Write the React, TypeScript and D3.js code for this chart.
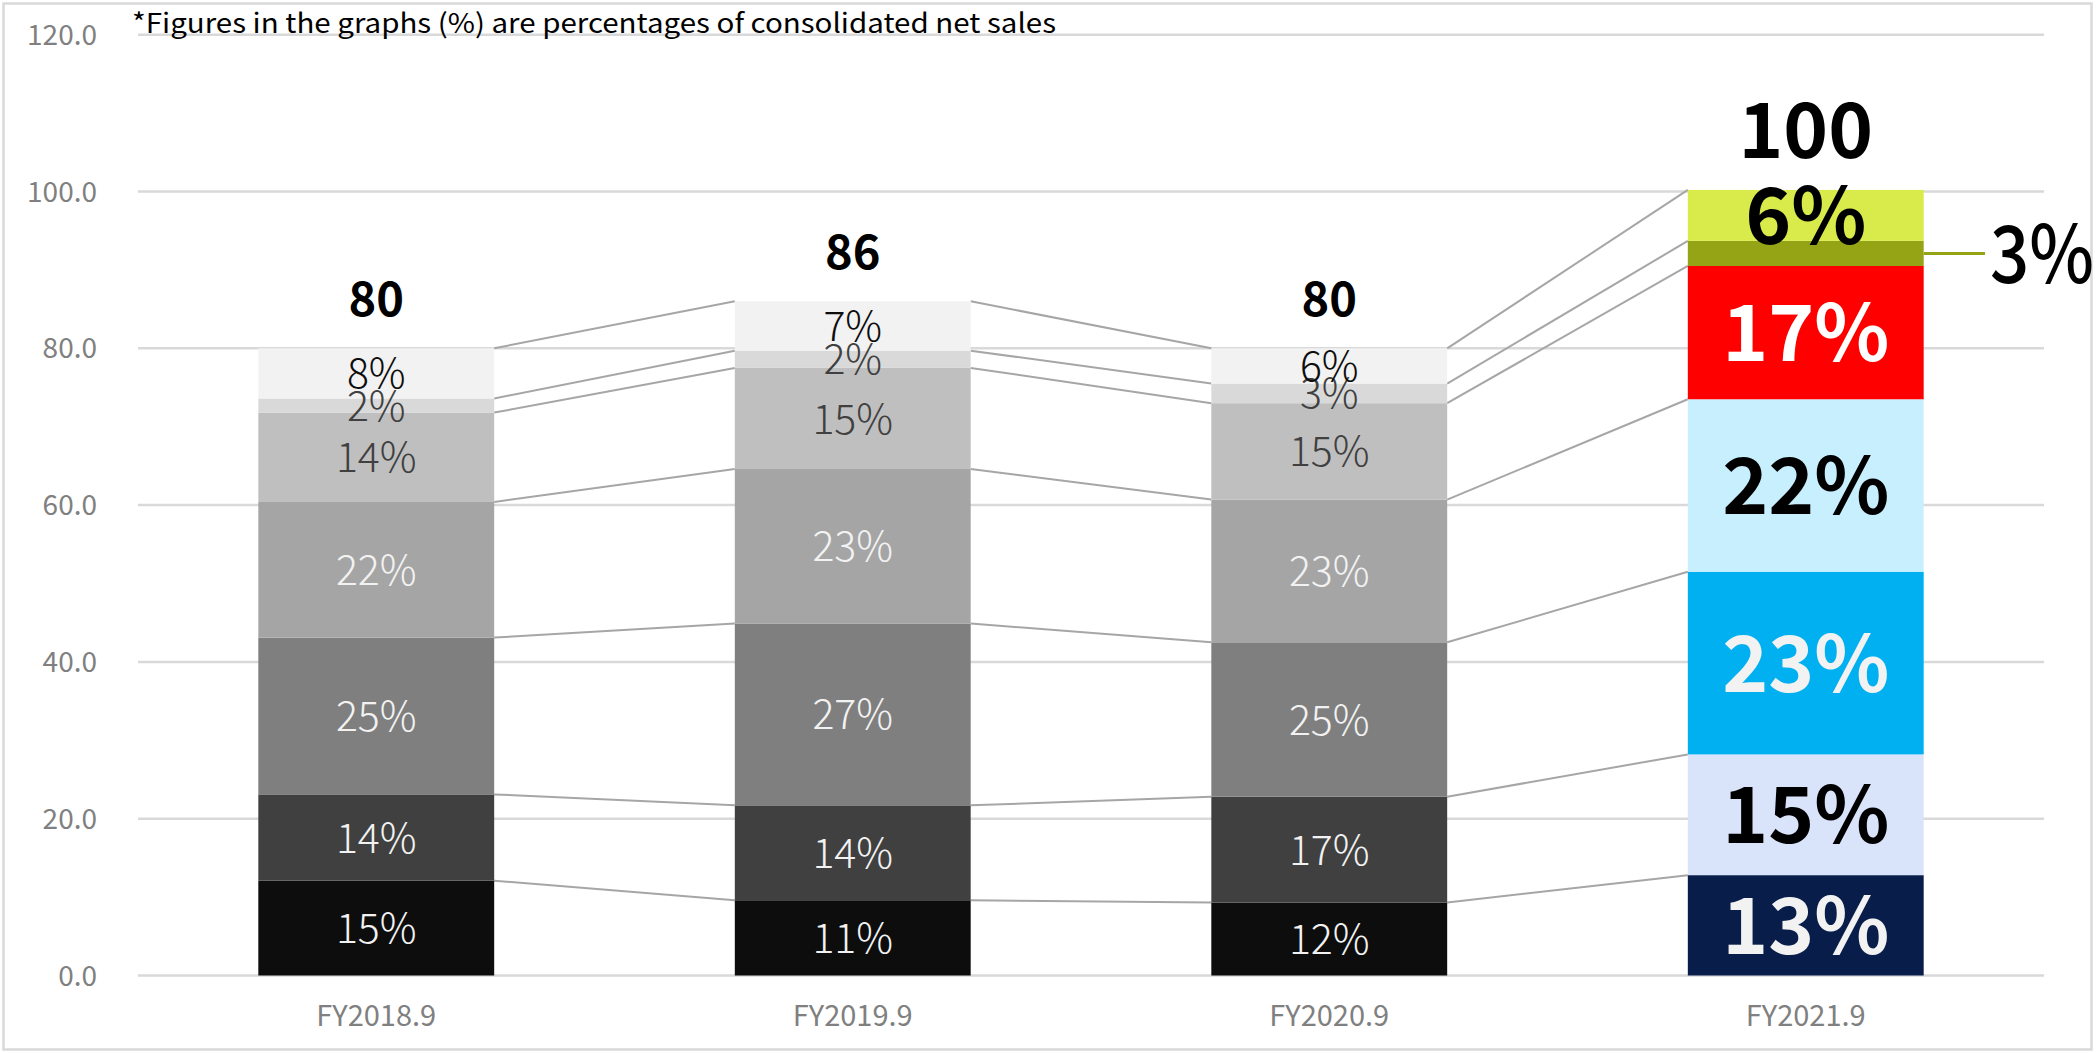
import React from "react";
import * as d3 from "d3";

const categories = ["FY2018.9", "FY2019.9", "FY2020.9", "FY2021.9"];
// series bottom -> top, values per category
const s1 = [12.1, 9.6, 9.3, 12.8];
const s2 = [11.0, 12.1, 13.5, 15.4];
const s3 = [20.0, 23.2, 19.7, 23.3];
const s4 = [17.3, 19.7, 18.2, 22.0];
const s5 = [11.4, 12.9, 12.3, 17.0];
const s6 = [1.8, 2.2, 2.5, 3.2];
const s7 = [6.4, 6.3, 4.5, 6.5];
const series = [s1, s2, s3, s4, s5, s6, s7];

const l1 = ["15%", "11%", "12%", "13%"];
const l2 = ["14%", "14%", "17%", "15%"];
const l3 = ["25%", "27%", "25%", "23%"];
const l4 = ["22%", "23%", "23%", "22%"];
const l5 = ["14%", "15%", "15%", "17%"];
const l6 = ["2%", "2%", "3%", "3%"];
const l7 = ["8%", "7%", "6%", "6%"];
const labels = [l1, l2, l3, l4, l5, l6, l7];

const totals = ["80", "86", "80", "100"];
const yTicks = [0, 20, 40, 60, 80, 100, 120];
const note = "*Figures in the graphs (%) are percentages of consolidated net sales";

const greyFill = ["#0d0d0d", "#404040", "#7f7f7f", "#a5a5a5", "#bfbfbf", "#d9d9d9", "#f2f2f2"];
const greyText = ["#f2f2f2", "#f2f2f2", "#f2f2f2", "#f2f2f2", "#404040", "#404040", "#0d0d0d"];
const colorFill = ["#081d4a", "#d9e3f9", "#00b0f0", "#c8effd", "#ff0000", "#94a414", "#d8eb4b"];
const colorText = ["#f2f2f2", "#000000", "#f2f2f2", "#000000", "#ffffff", "#000000", "#000000"];

const W = 2099;
const H = 1053;
const FONT = "'Noto Sans CJK JP', 'Noto Sans', sans-serif";

export default function App() {
  const x = d3
    .scaleBand<string>()
    .domain(categories)
    .range([138, 2044])
    .paddingInner(0.505)
    .paddingOuter(0.2525);
  const y = d3.scaleLinear().domain([0, 120]).range([975.5, 34.7]);
  const bw = x.bandwidth();

  // cumulative stacks
  const stacks = categories.map((_, ci) => {
    let acc = 0;
    return series.map((s) => {
      const y0 = acc;
      acc += s[ci];
      return [y0, acc];
    });
  });

  const connectors: JSX.Element[] = [];
  for (let ci = 0; ci < categories.length - 1; ci++) {
    for (let k = 0; k < series.length; k++) {
      const x1 = (x(categories[ci]) as number) + bw;
      const x2 = x(categories[ci + 1]) as number;
      connectors.push(
        <line
          key={`c${ci}-${k}`}
          x1={x1}
          x2={x2}
          y1={y(stacks[ci][k][1])}
          y2={y(stacks[ci + 1][k][1])}
          stroke="#a6a6a6"
          strokeWidth={2}
        />
      );
    }
  }

  const last = categories.length - 1;

  return (
    <svg
      width={W}
      height={H}
      style={{ position: "absolute", left: 0, top: 0, background: "#fff" }}
      fontFamily={FONT}
    >
      <rect x={3.5} y={3.5} width={2088} height={1046} fill="#fff" stroke="#d9d9d9" strokeWidth={2.5} />
      {yTicks.map((t) => (
        <g key={`t${t}`}>
          <line x1={138} x2={2044} y1={y(t)} y2={y(t)} stroke="#d9d9d9" strokeWidth={2.5} />
          <text x={97} y={y(t) + 10} textAnchor="end" fontSize={28} fill="#808080">
            {t.toFixed(1)}
          </text>
        </g>
      ))}
      <text x={132} y={33} fontSize={27} fill="#000" textLength={924} lengthAdjust="spacingAndGlyphs">
        {note}
      </text>
      {connectors}
      {categories.map((c, ci) => {
        const bx = x(c) as number;
        const colored = ci === last;
        return (
          <g key={c}>
            {series.map((s, k) => {
              const [a, b] = stacks[ci][k];
              return (
                <rect
                  key={k}
                  x={bx}
                  y={y(b)}
                  width={bw}
                  height={y(a) - y(b)}
                  fill={colored ? colorFill[k] : greyFill[k]}
                />
              );
            })}
            {series.map((s, k) => {
              const [a, b] = stacks[ci][k];
              const cy = (y(a) + y(b)) / 2;
              if (colored && k === 5) {
                return (
                  <g key={`l${k}`}>
                    <line
                      x1={bx + bw}
                      x2={1985}
                      y1={cy}
                      y2={cy}
                      stroke="#94a414"
                      strokeWidth={3}
                    />
                    <text
                      x={1990}
                      y={cy + 0.367 * 80}
                      fontSize={80}
                      fontWeight={500}
                      fill="#000"
                      textLength={104}
                      lengthAdjust="spacingAndGlyphs"
                    >
                      {labels[k][ci]}
                    </text>
                  </g>
                );
              }
              const fs = colored ? 78 : 41;
              return (
                <text
                  key={`l${k}`}
                  x={bx + bw / 2}
                  y={cy + 0.367 * fs}
                  textAnchor="middle"
                  fontSize={fs}
                  fontWeight={colored ? 700 : 300}
                  fill={colored ? colorText[k] : greyText[k]}
                >
                  {labels[k][ci]}
                </text>
              );
            })}
            <text
              x={bx + bw / 2}
              y={y(stacks[ci][series.length - 1][1]) - 32}
              textAnchor="middle"
              fontSize={colored ? 76 : 47}
              fontWeight={700}
              fill="#000"
            >
              {totals[ci]}
            </text>
            <text
              x={bx + bw / 2}
              y={1026}
              textAnchor="middle"
              fontSize={29}
              fill="#808080"
            >
              {c}
            </text>
          </g>
        );
      })}
    </svg>
  );
}
